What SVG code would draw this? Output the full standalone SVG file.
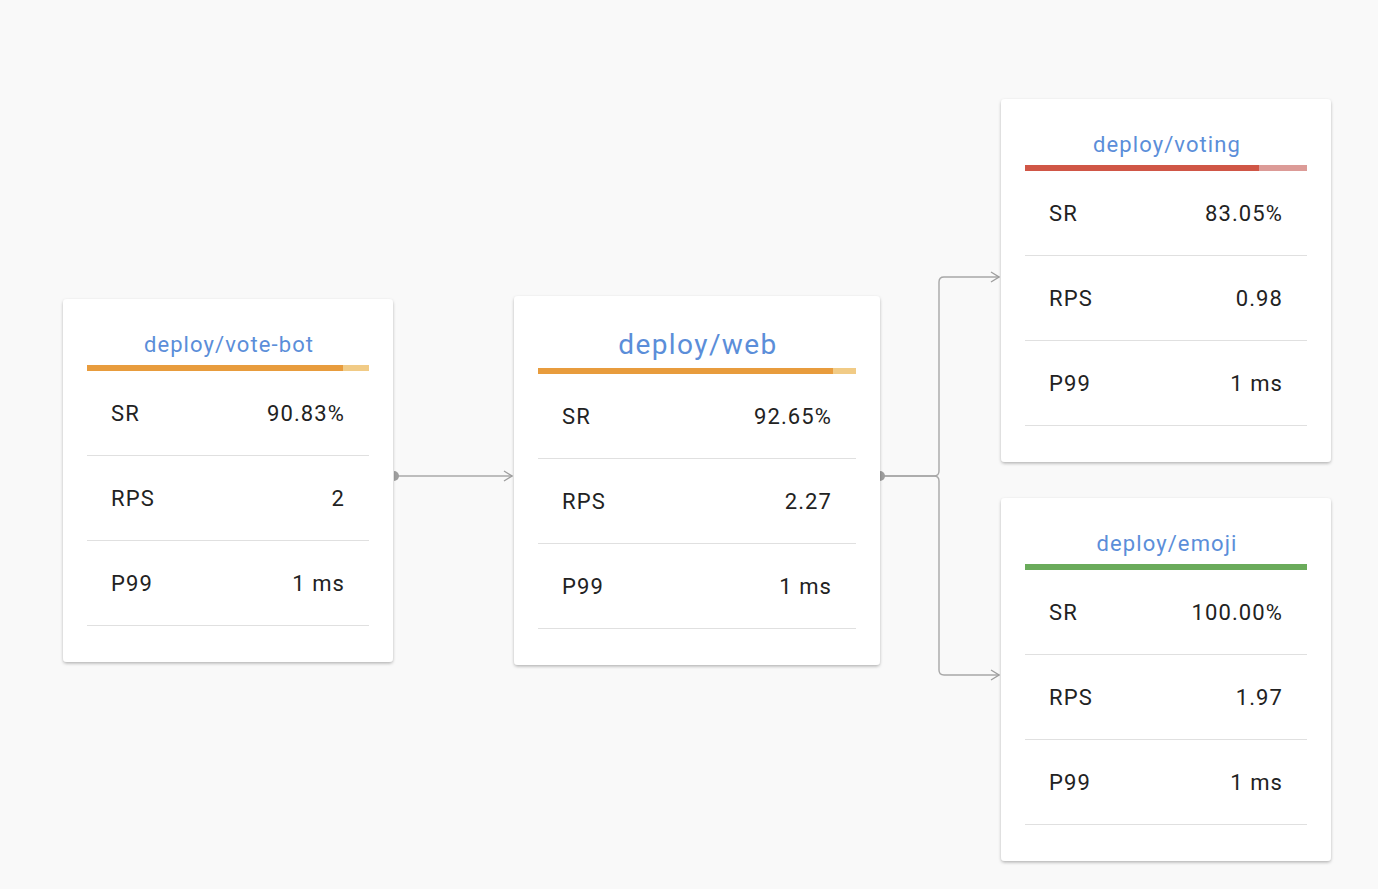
<svg xmlns="http://www.w3.org/2000/svg" width="1378" height="889" viewBox="0 0 1378 889">
<defs>
<filter id="sh" x="-10%" y="-10%" width="120%" height="120%">
<feDropShadow dx="0" dy="1.5" stdDeviation="1.5" flood-color="#000" flood-opacity="0.28"/>
</filter>
<marker id="arr" viewBox="0 0 10 12" refX="9" refY="6" markerWidth="10" markerHeight="12" markerUnits="userSpaceOnUse" orient="auto">
<path d="M1,1 L9,6 L1,11" fill="none" stroke="#9e9e9e" stroke-width="1.3"/>
</marker>
</defs>
<style>
.card{fill:#fff;filter:url(#sh)}
.title{font-family:Roboto,"Liberation Sans",sans-serif;fill:#5b8ed9;text-anchor:middle;font-size:22px;letter-spacing:0.05em}
.lbl{font-family:Roboto,"Liberation Sans",sans-serif;fill:#222;font-size:22px;letter-spacing:0.05em}
.val{font-family:Roboto,"Liberation Sans",sans-serif;fill:#222;font-size:22px;text-anchor:end;letter-spacing:0.05em}
.div{stroke:#e0e0e0;stroke-width:1.2}
.conn{fill:none;stroke:#a8a8a8;stroke-width:1.4}
.dot{fill:#9e9e9e}
</style>
<rect width="1378" height="889" fill="#f9f9f9"/>
<g id="connectors">
<path class="conn" d="M395,476 L512,476" marker-end="url(#arr)"/>
<path class="conn" d="M882,476 L934,476 Q939,476 939,471 L939,282 Q939,277 944,277 L999,277" marker-end="url(#arr)"/>
<path class="conn" d="M882,476 L934,476 Q939,476 939,481 L939,670 Q939,675 944,675 L999,675" marker-end="url(#arr)"/>
<path class="dot" d="M394,471 A5,5 0 0 1 394,481 Z"/>
<path class="dot" d="M880,471 A5,5 0 0 1 880,481 Z"/>
</g>
<g id="vote-bot">
<rect class="card" x="63" y="299" width="330" height="363" rx="4"/>
<text class="title" x="229" y="352">deploy/vote-bot</text>
<rect x="87" y="365" width="256" height="6" fill="#e89c3d"/>
<rect x="343" y="365" width="26" height="6" fill="#f1cb86"/>
<text class="lbl" x="111" y="421">SR</text><text class="val" x="345" y="421">90.83%</text>
<line class="div" x1="87" y1="455.5" x2="369" y2="455.5"/>
<text class="lbl" x="111" y="506">RPS</text><text class="val" x="345" y="506">2</text>
<line class="div" x1="87" y1="540.5" x2="369" y2="540.5"/>
<text class="lbl" x="111" y="591">P99</text><text class="val" x="345" y="591">1 ms</text>
<line class="div" x1="87" y1="625.5" x2="369" y2="625.5"/>
</g>
<g id="web">
<rect class="card" x="514" y="296" width="366" height="369" rx="4"/>
<text class="title" x="698" y="354" style="font-size:28px">deploy/web</text>
<rect x="538" y="368" width="295" height="6" fill="#e89c3d"/>
<rect x="833" y="368" width="23" height="6" fill="#f1cb86"/>
<text class="lbl" x="562" y="424">SR</text><text class="val" x="832" y="424">92.65%</text>
<line class="div" x1="538" y1="458.5" x2="856" y2="458.5"/>
<text class="lbl" x="562" y="509">RPS</text><text class="val" x="832" y="509">2.27</text>
<line class="div" x1="538" y1="543.5" x2="856" y2="543.5"/>
<text class="lbl" x="562" y="594">P99</text><text class="val" x="832" y="594">1 ms</text>
<line class="div" x1="538" y1="628.5" x2="856" y2="628.5"/>
</g>
<g id="voting">
<rect class="card" x="1001" y="99" width="330" height="363" rx="4"/>
<text class="title" x="1167" y="152">deploy/voting</text>
<rect x="1025" y="165" width="234" height="6" fill="#d05646"/>
<rect x="1259" y="165" width="48" height="6" fill="#dc9b97"/>
<text class="lbl" x="1049" y="221">SR</text><text class="val" x="1283" y="221">83.05%</text>
<line class="div" x1="1025" y1="255.5" x2="1307" y2="255.5"/>
<text class="lbl" x="1049" y="306">RPS</text><text class="val" x="1283" y="306">0.98</text>
<line class="div" x1="1025" y1="340.5" x2="1307" y2="340.5"/>
<text class="lbl" x="1049" y="391">P99</text><text class="val" x="1283" y="391">1 ms</text>
<line class="div" x1="1025" y1="425.5" x2="1307" y2="425.5"/>
</g>
<g id="emoji">
<rect class="card" x="1001" y="498" width="330" height="363" rx="4"/>
<text class="title" x="1167" y="551">deploy/emoji</text>
<rect x="1025" y="564" width="282" height="6" fill="#6aab5b"/>
<text class="lbl" x="1049" y="620">SR</text><text class="val" x="1283" y="620">100.00%</text>
<line class="div" x1="1025" y1="654.5" x2="1307" y2="654.5"/>
<text class="lbl" x="1049" y="705">RPS</text><text class="val" x="1283" y="705">1.97</text>
<line class="div" x1="1025" y1="739.5" x2="1307" y2="739.5"/>
<text class="lbl" x="1049" y="790">P99</text><text class="val" x="1283" y="790">1 ms</text>
<line class="div" x1="1025" y1="824.5" x2="1307" y2="824.5"/>
</g>
</svg>
